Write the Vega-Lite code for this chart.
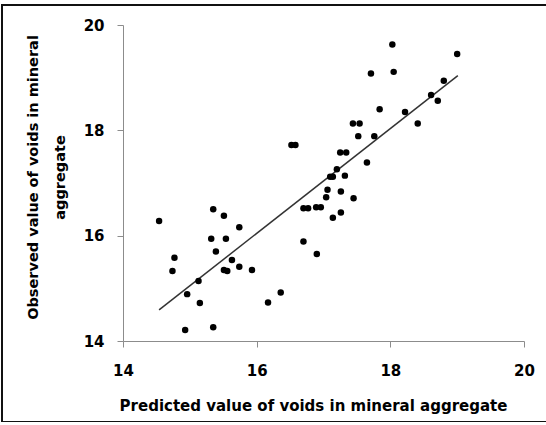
{
  "$schema": "https://vega.github.io/schema/vega-lite/v6.json",
  "autosize": {"type": "none"},
  "padding": {"left": 2, "top": 5, "right": 0, "bottom": 0},
  "width": 548,
  "height": 417,
  "background": "white",
  "config": {
    "view": {"stroke": "#111111", "strokeWidth": 2},
    "font": "DejaVu Sans"
  },
  "datasets": {
    "observations": [
      {"predicted": 14.54, "observed": 16.28},
      {"predicted": 14.77, "observed": 15.58},
      {"predicted": 14.74, "observed": 15.33},
      {"predicted": 14.96, "observed": 14.89},
      {"predicted": 15.13, "observed": 15.14},
      {"predicted": 15.15, "observed": 14.72},
      {"predicted": 14.93, "observed": 14.21},
      {"predicted": 15.35, "observed": 14.26},
      {"predicted": 15.35, "observed": 16.5},
      {"predicted": 15.51, "observed": 16.38},
      {"predicted": 15.32, "observed": 15.94},
      {"predicted": 15.54, "observed": 15.94},
      {"predicted": 15.39, "observed": 15.7},
      {"predicted": 15.63, "observed": 15.54},
      {"predicted": 15.51, "observed": 15.35},
      {"predicted": 15.56, "observed": 15.33},
      {"predicted": 15.74, "observed": 15.41},
      {"predicted": 15.74, "observed": 16.16},
      {"predicted": 15.93, "observed": 15.35},
      {"predicted": 16.17, "observed": 14.73},
      {"predicted": 16.36, "observed": 14.92},
      {"predicted": 16.7, "observed": 15.89},
      {"predicted": 16.9, "observed": 15.65},
      {"predicted": 16.7, "observed": 16.52},
      {"predicted": 16.77, "observed": 16.52},
      {"predicted": 16.89, "observed": 16.54},
      {"predicted": 16.96, "observed": 16.54},
      {"predicted": 17.04, "observed": 16.73},
      {"predicted": 17.06, "observed": 16.87},
      {"predicted": 17.1, "observed": 17.12},
      {"predicted": 17.14, "observed": 17.12},
      {"predicted": 16.52, "observed": 17.72},
      {"predicted": 16.58, "observed": 17.72},
      {"predicted": 18.03, "observed": 19.63},
      {"predicted": 19.0, "observed": 19.45},
      {"predicted": 17.71, "observed": 19.08},
      {"predicted": 18.05, "observed": 19.11},
      {"predicted": 18.8, "observed": 18.94},
      {"predicted": 18.61, "observed": 18.67},
      {"predicted": 18.71, "observed": 18.56},
      {"predicted": 17.84, "observed": 18.4},
      {"predicted": 18.22, "observed": 18.35},
      {"predicted": 18.41, "observed": 18.13},
      {"predicted": 17.44, "observed": 18.13},
      {"predicted": 17.54, "observed": 18.13},
      {"predicted": 17.52, "observed": 17.89},
      {"predicted": 17.76, "observed": 17.89},
      {"predicted": 17.25, "observed": 17.58},
      {"predicted": 17.34, "observed": 17.58},
      {"predicted": 17.65, "observed": 17.39},
      {"predicted": 17.2, "observed": 17.26},
      {"predicted": 17.32, "observed": 17.14},
      {"predicted": 17.26, "observed": 16.84},
      {"predicted": 17.45, "observed": 16.71},
      {"predicted": 17.26, "observed": 16.44},
      {"predicted": 17.14, "observed": 16.34}
    ],
    "trend": [
      {"predicted": 14.54, "observed": 14.59},
      {"predicted": 19.01, "observed": 19.04}
    ]
  },
  "encoding": {
    "x": {
      "field": "predicted",
      "type": "quantitative",
      "scale": {"domain": [14, 20], "range": [121, 522], "nice": false, "zero": false},
      "axis": {
        "title": "Predicted value of voids in mineral aggregate",
        "values": [14, 16, 18, 20],
        "grid": false,
        "offset": -81,
        "domainColor": "#8c8c8c",
        "tickColor": "#8c8c8c",
        "tickSize": 6,
        "labelFlush": false,
        "labelOverlap": false,
        "labelFont": "DejaVu Sans",
        "labelFontWeight": "bold",
        "labelFontSize": 15,
        "labelColor": "#000000",
        "labelPadding": 16,
        "titleFont": "DejaVu Sans",
        "titleFontWeight": "bold",
        "titleFontSize": 15,
        "titleColor": "#000000",
        "titleX": 311,
        "titleAlign": "center",
        "titlePadding": 20
      }
    },
    "y": {
      "field": "observed",
      "type": "quantitative",
      "scale": {"domain": [14, 20], "range": [336, 20], "nice": false, "zero": false},
      "axis": {
        "title": ["Observed value of voids in mineral", "aggregate"],
        "values": [14, 16, 18, 20],
        "grid": false,
        "offset": -121,
        "domainColor": "#8c8c8c",
        "tickColor": "#8c8c8c",
        "tickSize": 6,
        "labelFlush": false,
        "labelOverlap": false,
        "labelFont": "DejaVu Sans",
        "labelFontWeight": "bold",
        "labelFontSize": 15,
        "labelColor": "#000000",
        "labelPadding": 13,
        "titleFont": "DejaVu Sans",
        "titleFontWeight": "bold",
        "titleFontSize": 14.5,
        "titleColor": "#000000",
        "titleLineHeight": 27,
        "titlePadding": 16,
        "titleY": 172
      }
    }
  },
  "layer": [
    {
      "data": {"name": "trend"},
      "mark": {"type": "line", "color": "#333333", "strokeWidth": 1.5}
    },
    {
      "data": {"name": "observations"},
      "mark": {"type": "circle", "color": "#000000", "opacity": 1, "size": 42}
    }
  ]
}
